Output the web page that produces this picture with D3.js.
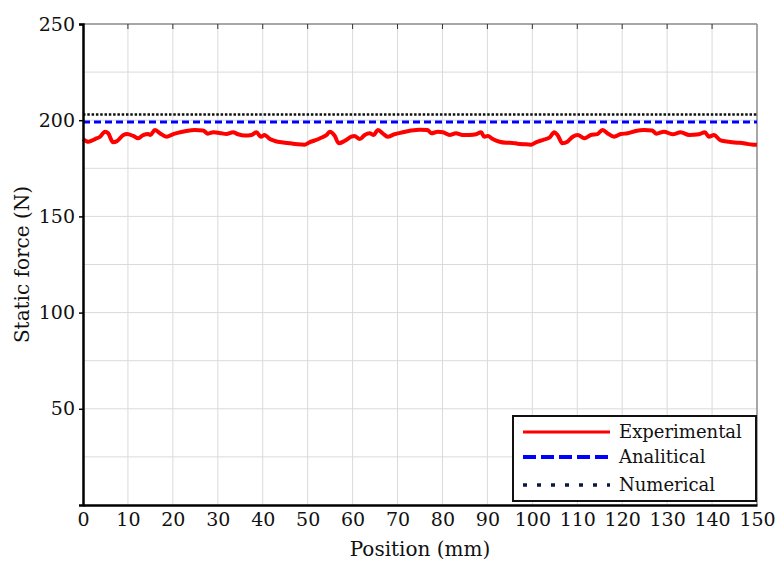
<!DOCTYPE html>
<html>
<head>
<meta charset="utf-8">
<script src="https://cdn.jsdelivr.net/npm/d3@7"></script>
<style>
  body { margin: 0; background: #fff; }
  svg text { fill: #111; }
</style>
</head>
<body>
<div id="chart"></div>
<script>
var width = 777;
var height = 563;

// experimental curve (mm, N)
var posExp = [0, 1.2, 2.7, 3.8, 4.9, 5.6, 6.7, 7.6, 9.0, 9.8, 11.2, 12.3, 13.4, 14.5, 15.0, 16.0, 17.1,
  18.6, 20.1, 21.6, 23.0, 24.9, 26.7, 27.8, 29.0, 30.8, 31.9, 33.4, 34.5, 36.0, 37.5, 38.6, 39.6, 40.4,
  41.6, 42.7, 44.2, 45.6, 46.7, 47.8, 49.3, 50.4, 51.6, 53.0, 54.2, 54.9, 56.0, 56.9, 58.2, 59.7, 60.4,
  61.6, 62.7, 63.8, 64.7, 65.6, 66.7, 67.8, 69.3, 71.2, 73.0, 74.9, 76.7, 77.5, 79.0, 80.1, 81.6, 83.0,
  84.5, 86.0, 87.5, 88.6, 89.3, 90.1, 91.2, 92.7, 94.2, 95.6, 96.7, 98.2, 99.7, 100.8, 102.3, 103.8,
  104.9, 105.6, 106.7, 107.8, 109.0, 110.1, 111.6, 113.0, 114.5, 115.6, 116.7, 118.2, 119.7, 121.2,
  123.0, 124.9, 126.7, 127.6, 129.3, 131.2, 133.0, 134.9, 137.1, 138.4, 139.3, 140.4, 141.9, 143.8,
  145.6, 146.7, 147.8, 149.3, 150];
var forceExp = [190.2, 188.8, 190.2, 191.4, 194.0, 193.2, 188.5, 189.2, 192.3, 192.8, 191.8, 190.6, 192.3,
  192.8, 192.3, 194.9, 193.2, 191.4, 192.8, 193.7, 194.4, 194.9, 194.7, 193.0, 193.7, 193.2, 192.8,
  193.7, 192.7, 192.0, 192.3, 193.7, 191.4, 192.3, 190.2, 189.2, 188.5, 188.2, 187.8, 187.5, 187.3,
  188.5, 189.5, 190.9, 192.3, 194.0, 192.0, 188.0, 189.2, 191.4, 191.8, 190.2, 192.3, 193.2, 192.3,
  194.9, 193.2, 191.4, 192.7, 193.7, 194.6, 195.1, 194.9, 193.2, 194.0, 193.7, 192.3, 193.2, 192.3,
  192.3, 192.7, 193.7, 191.4, 191.8, 190.2, 188.8, 188.3, 188.2, 187.8, 187.5, 187.3, 188.5, 189.7,
  190.9, 193.7, 192.3, 188.0, 188.8, 191.4, 192.3, 190.6, 192.3, 192.8, 194.9, 193.2, 191.4, 192.8,
  193.2, 194.4, 194.9, 194.6, 193.0, 194.0, 192.7, 193.7, 192.3, 192.7, 193.7, 191.4, 192.3, 189.5,
  188.8, 188.3, 188.2, 187.7, 187.3, 187.2];
var analyticalForce = 199;
var numericalForce = 203;

var xTicks = d3.range(0, 151, 10);
var yTicks = [50, 100, 150, 200, 250];
var yGrid = d3.range(25, 251, 25);
var legendLabels = ["Experimental", "Analitical", "Numerical"];

var serif = "'DejaVu Serif', serif";

var margin = {top: 24, right: 20, bottom: 58, left: 83};
var iw = width - margin.left - margin.right;
var ih = height - margin.top - margin.bottom;

var svg = d3.select("#chart").append("svg")
  .attr("width", width)
  .attr("height", height)
  .attr("font-family", serif);

var g = svg.append("g").attr("transform", "translate(" + margin.left + "," + margin.top + ")");

var x = d3.scaleLinear().domain([0, 150]).range([0, iw]);
var y = d3.scaleLinear().domain([0, 250]).range([ih, 0]);

// grid
g.append("g").selectAll("line").data(xTicks.slice(1, -1)).join("line")
  .attr("x1", d => x(d)).attr("x2", d => x(d))
  .attr("y1", 0).attr("y2", ih)
  .style("stroke", "#dadada").style("stroke-width", 1);
g.append("g").selectAll("line").data(yGrid.slice(0, -1)).join("line")
  .attr("x1", 0).attr("x2", iw)
  .attr("y1", d => y(d)).attr("y2", d => y(d))
  .style("stroke", "#dadada").style("stroke-width", 1);

// top and right frame
g.append("line").attr("x1", 0).attr("x2", iw).attr("y1", 0).attr("y2", 0)
  .style("stroke", "#8a8a8a").style("stroke-width", 1.5);
g.append("line").attr("x1", iw).attr("x2", iw).attr("y1", 0).attr("y2", ih)
  .style("stroke", "#8a8a8a").style("stroke-width", 1.5);

// small ticks along the top
g.append("g").selectAll("line").data(xTicks.slice(1, -1)).join("line")
  .attr("x1", d => x(d)).attr("x2", d => x(d))
  .attr("y1", 0).attr("y2", 5)
  .style("stroke", "#333").style("stroke-width", 1);

// lines
var line = d3.line().x((d, i) => x(posExp[i])).y(d => y(d)).curve(d3.curveMonotoneX);

g.append("line")
  .attr("x1", 0).attr("x2", iw)
  .attr("y1", y(numericalForce)).attr("y2", y(numericalForce))
  .style("stroke", "#111").style("stroke-width", 2.5)
  .style("stroke-dasharray", "2.5,1.8");

g.append("line")
  .attr("x1", 0).attr("x2", iw)
  .attr("y1", y(analyticalForce)).attr("y2", y(analyticalForce))
  .style("stroke", "#0000ff").style("stroke-width", 3)
  .style("stroke-dasharray", "7,4");

g.append("path")
  .attr("d", line(forceExp))
  .style("fill", "none")
  .style("stroke", "#ff0000")
  .style("stroke-width", 4)
  .style("stroke-linejoin", "round");

// axes
var xAxis = g.append("g").attr("transform", "translate(0," + ih + ")")
  .call(d3.axisBottom(x).tickValues(xTicks).tickSize(0).tickPadding(8));
var yAxis = g.append("g")
  .call(d3.axisLeft(y).tickValues(yTicks).tickSize(4).tickPadding(4));

[xAxis, yAxis].forEach(function(a) {
  a.attr("font-family", serif).attr("font-size", 19);
  a.select(".domain").style("stroke", "#000").style("stroke-width", 2.5);
  a.selectAll("text").style("fill", "#111");
});
yAxis.selectAll(".tick line").style("stroke", "#000").style("stroke-width", 1.5);

// axis titles
svg.append("text")
  .attr("x", margin.left + iw / 2)
  .attr("y", 556)
  .attr("text-anchor", "middle")
  .attr("font-size", 20)
  .text("Position (mm)");

svg.append("text")
  .attr("transform", "translate(29," + (margin.top + ih / 2) + ") rotate(-90)")
  .attr("text-anchor", "middle")
  .attr("font-size", 20)
  .text("Static force (N)");

// legend
var lg = svg.append("g").attr("transform", "translate(513,416)");
lg.append("rect").attr("width", 243).attr("height", 85)
  .style("fill", "#fff").style("stroke", "#111").style("stroke-width", 2);

var legStyles = [
  {color: "#ff0000", dash: null, w: 3},
  {color: "#0000ff", dash: "13,5", w: 4},
  {color: "#0b1a3c", dash: "4,10", w: 3.5}
];
var legY = [16, 41, 69];

legendLabels.forEach(function(lab, i) {
  var s = legStyles[i];
  var ln = lg.append("line")
    .attr("x1", 10).attr("x2", 97)
    .attr("y1", legY[i]).attr("y2", legY[i])
    .style("stroke", s.color).style("stroke-width", s.w);
  if (s.dash) ln.style("stroke-dasharray", s.dash);
  lg.append("text")
    .attr("x", 106).attr("y", legY[i])
    .attr("dy", "0.35em")
    .attr("font-size", 18)
    .text(lab);
});
</script>
</body>
</html>
